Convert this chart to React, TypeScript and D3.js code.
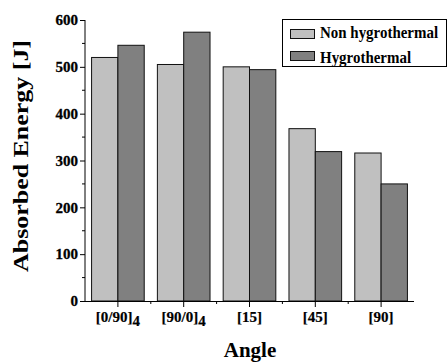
import { useEffect, useRef } from 'react';
import * as d3 from 'd3';

const categories = ['[0/90]', '[90/0]', '[15]', '[45]', '[90]'];
const subscripts = ['4', '4', '', '', ''];
const nonHygro = [520, 505, 500, 368, 316];
const hygro = [546, 574, 494, 319, 250];
const seriesNames = ['Non hygrothermal', 'Hygrothermal'];
const seriesColors = ['#c0c0c0', '#808080'];
const yTicks = [0, 100, 200, 300, 400, 500, 600];

const App = () => {
  const svgRef = useRef<SVGSVGElement>(null);

  useEffect(() => {
    if (!svgRef.current) return;
    const svg = d3.select(svgRef.current);
    svg.selectAll('*').remove();

    const font = '"Liberation Serif", "Times New Roman", serif';
    const left = 85, right = 414, top = 20, bottom = 301;

    const x = d3.scaleBand<string>().domain(categories).range([left, right]).paddingInner(0.2).paddingOuter(0.1);
    const xs = d3.scaleBand<number>().domain([0, 1]).range([0, x.bandwidth()]);
    const y = d3.scaleLinear().domain([0, 600]).range([bottom, top]);

    const data = categories.map((c, i) => ({ c, vals: [nonHygro[i], hygro[i]] }));

    // bars
    const groups = svg.append('g').selectAll('g').data(data).enter().append('g')
      .attr('transform', d => `translate(${x(d.c)},0)`);
    groups.selectAll('rect')
      .data(d => d.vals.map((v, k) => ({ v, k })))
      .enter().append('rect')
      .attr('x', d => xs(d.k)!)
      .attr('y', d => y(d.v))
      .attr('width', xs.bandwidth())
      .attr('height', d => bottom - y(d.v))
      .attr('fill', d => seriesColors[d.k])
      .attr('stroke', '#111')
      .attr('stroke-width', 1);

    // y axis
    const yAxis = svg.append('g').attr('transform', `translate(${left},0)`)
      .call(d3.axisLeft(y).tickValues(yTicks).tickSize(5).tickPadding(2).tickFormat(d3.format('d')));
    yAxis.selectAll('text').attr('font-family', font).attr('font-weight', 'bold').attr('font-size', 15)
      .attr('fill', '#000').attr('stroke', '#000').attr('stroke-width', 0.3);
    yAxis.selectAll('line').attr('stroke', '#000');
    yAxis.select('.domain').attr('stroke', '#000').attr('d', `M0,${top}V${bottom}`);
    svg.append('g').selectAll('line').data(d3.range(50, 600, 100)).enter().append('line')
      .attr('x1', left - 3).attr('x2', left).attr('y1', d => y(d)).attr('y2', d => y(d)).attr('stroke', '#000');

    // x axis
    svg.append('line').attr('x1', left).attr('x2', right).attr('y1', bottom + 0.5).attr('y2', bottom + 0.5).attr('stroke', '#000');
    svg.append('g').selectAll('line').data(categories).enter().append('line')
      .attr('x1', d => x(d)! + x.bandwidth() / 2).attr('x2', d => x(d)! + x.bandwidth() / 2)
      .attr('y1', bottom).attr('y2', bottom + 6).attr('stroke', '#000');
    svg.append('g').selectAll('line').data(categories.slice(1)).enter().append('line')
      .attr('x1', d => x(d)! - x.step() * 0.1).attr('x2', d => x(d)! - x.step() * 0.1)
      .attr('y1', bottom).attr('y2', bottom + 3).attr('stroke', '#000');

    const labels = svg.append('g').selectAll('text').data(categories).enter().append('text')
      .attr('x', d => x(d)! + x.bandwidth() / 2)
      .attr('y', bottom + 21)
      .attr('text-anchor', 'middle')
      .attr('font-family', font).attr('font-weight', 'bold').attr('font-size', 15)
      .attr('stroke', '#000').attr('stroke-width', 0.2);
    labels.append('tspan').text(d => d);
    labels.append('tspan').attr('dy', 4).text((_, i) => subscripts[i]);

    // axis titles
    svg.append('text').attr('x', 250).attr('y', 357).attr('text-anchor', 'middle')
      .attr('font-family', font).attr('font-weight', 'bold').attr('font-size', 21).text('Angle');
    svg.append('text').attr('transform', `translate(27.5,156) rotate(-90)`).attr('text-anchor', 'middle')
      .attr('font-family', font).attr('font-weight', 'bold').attr('font-size', 21)
      .attr('textLength', 232).attr('lengthAdjust', 'spacingAndGlyphs').text('Absorbed Energy [J]');

    // legend
    const lg = svg.append('g');
    lg.append('rect').attr('x', 282.5).attr('y', 19.5).attr('width', 164).attr('height', 47)
      .attr('fill', '#fff').attr('stroke', '#000');
    seriesNames.forEach((n, i) => {
      lg.append('rect').attr('x', 290.5).attr('y', 29.5 + i * 22).attr('width', 24).attr('height', 9)
        .attr('fill', seriesColors[i]).attr('stroke', '#111');
      lg.append('text').attr('transform', `translate(320,${38 + i * 24.5}) scale(0.88,1)`)
        .attr('font-family', font).attr('font-weight', 'bold').attr('font-size', 17).text(n);
    });
  }, []);

  return <svg ref={svgRef} width={448} height={364} style={{ position: 'absolute', left: 0, top: 0, background: '#fff' }} />;
};

export default App;
